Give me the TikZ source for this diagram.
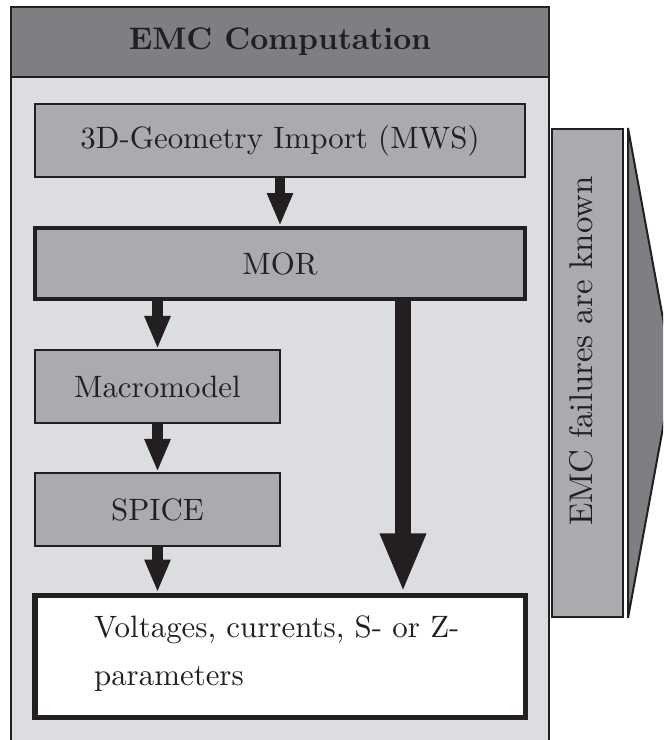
\documentclass[tikz,border=0pt]{standalone}
\usetikzlibrary{arrows.meta,calc}

\definecolor{hdrgray}{RGB}{126,127,131}
\definecolor{bodygray}{RGB}{220,221,224}
\definecolor{boxgray}{RGB}{170,171,175}
\definecolor{ink}{RGB}{35,31,32}

\begin{document}
\begin{tikzpicture}[
  x=0.33333pt, y=-0.33333pt,
  font=\fontsize{10.3}{16}\selectfont, text=ink,
  wd/.style={minimum width={#1*0.33333pt}},
  ht/.style={minimum height={#1*0.33333pt}},
  stage/.style={draw=ink, fill=boxgray, line width=0.67pt, inner sep=0pt},
  flow/.style={draw=ink, line width=3.5pt, -{Triangle[width=8pt,length=11pt]}},
  bigflow/.style={draw=ink, line width=5.5pt, -{Triangle[width=14pt,length=19.7pt]}},
]
\clip (0,0) rectangle (663,740);
\fill[white] (0,0) rectangle (663,740);

% frame with header band
\draw[ink, line width=0.67pt, fill=bodygray] (11,7) rectangle (549,800);
\draw[ink, line width=0.67pt, fill=hdrgray] (11,7) rectangle (549,77);
\node (title) at (280,42) {\fontsize{10.4}{12}\selectfont\bfseries EMC Computation};

% processing stages
\node[stage, wd=490, ht=73] (geo) at (280,140.5) {3D-Geometry Import (MWS)};
\node[stage, wd=490, ht=71, line width=1.33pt] (mor) at (280,263.5) {MOR};
\node[stage, wd=245, ht=73] (macro) at (157.5,386.5) {Macromodel};
\node[stage, wd=245, ht=73] (spice) at (157.5,509.5) {SPICE};
\node[stage, fill=white, wd=490, ht=122, line width=1.67pt] (volt) at (280,656) {};
\node[anchor=west, align=left, inner sep=0pt] (volttext) at ($(volt.west)+(61,-2)$)
  {Voltages, currents, S- or Z-\\parameters};

% result banner on the right
\node[draw=ink, fill=boxgray, line width=0.67pt, wd=71, ht=488] (side) at (587.5,373) {};
\node[rotate=90, font=\fontsize{10.95}{13}\selectfont, inner sep=0pt] (sidetext) at (581,351) {EMC failures are known};
\draw[ink, line width=0.67pt, fill=hdrgray] (628,128) -- (673,373) -- (628,618) -- cycle;

% flow arrows
\draw[flow] (geo.south) -- (mor.north);
\draw[flow] (mor.south -| macro.north) -- (macro.north);
\draw[flow] (macro.south) -- (spice.north);
\draw[flow] (spice.south) -- (volt.north -| spice.south);
\coordinate (bypass) at (403,0);
\draw[bigflow] (mor.south -| bypass) -- (volt.north -| bypass);
\end{tikzpicture}
\end{document}
